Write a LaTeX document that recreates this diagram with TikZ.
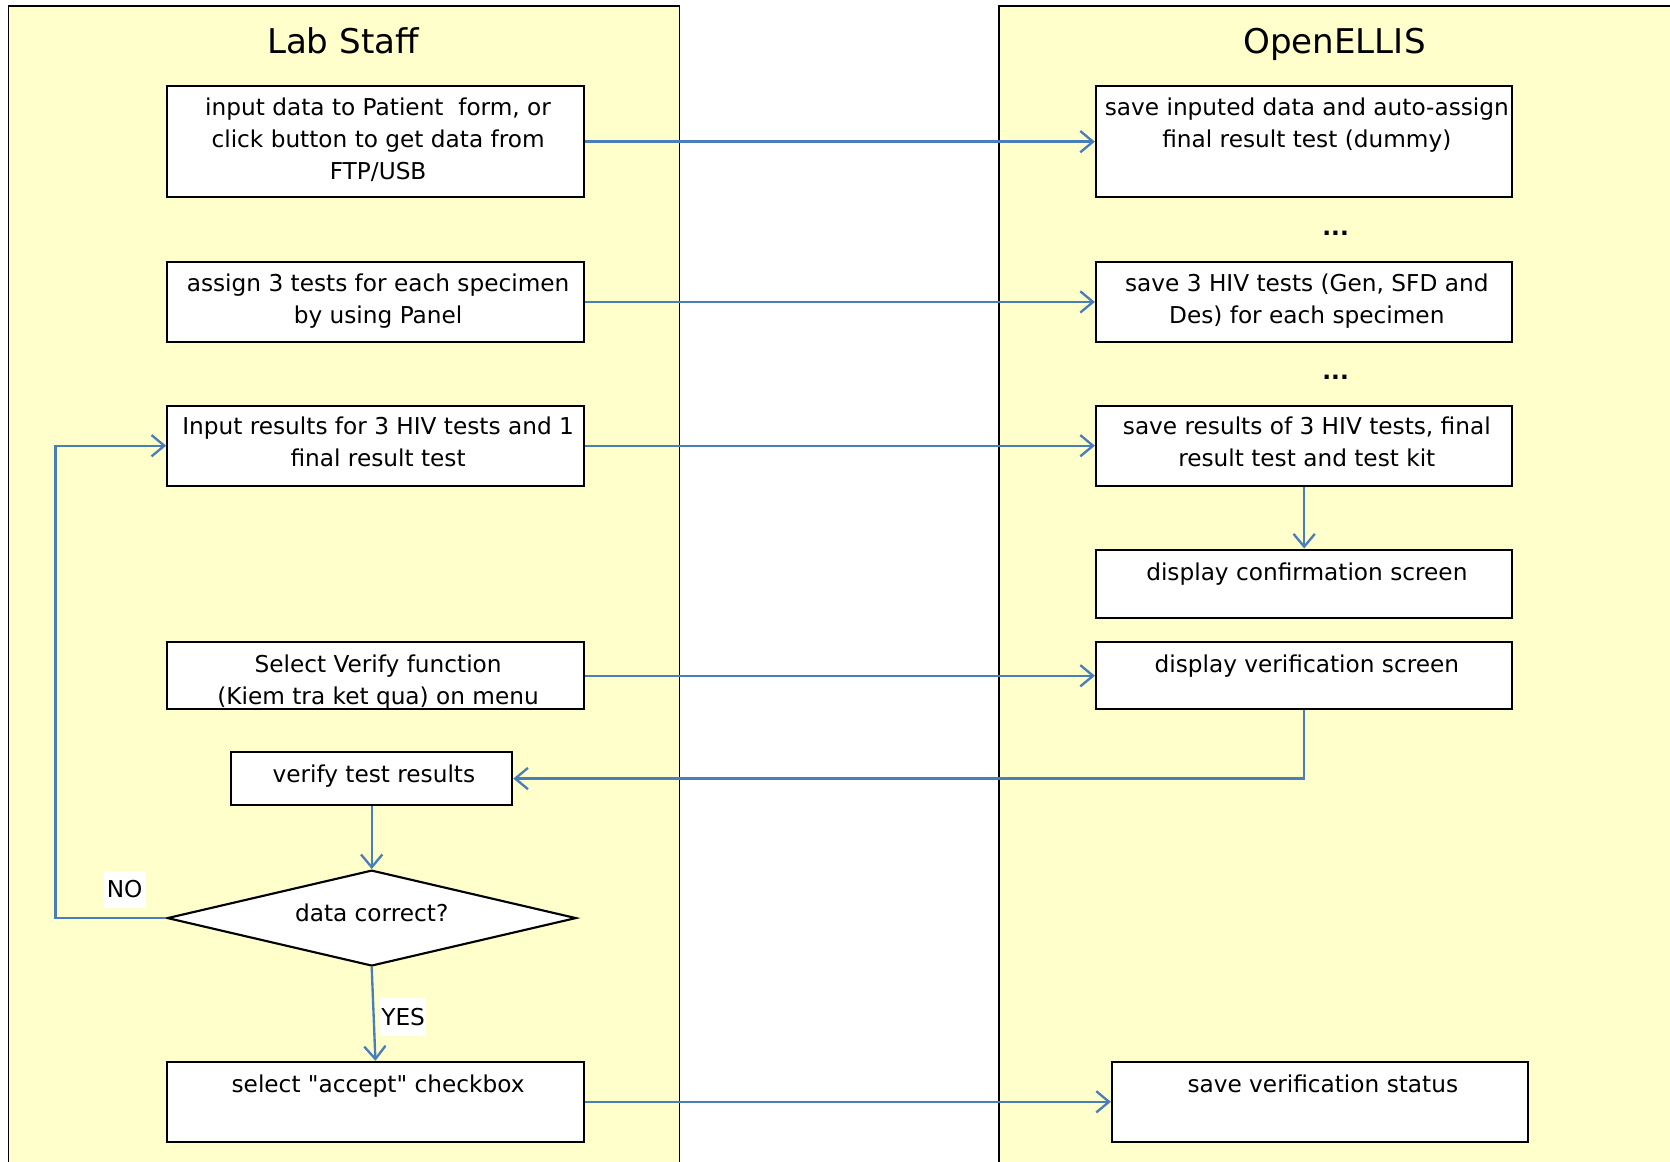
\documentclass[tikz,border=0pt]{standalone}
\usepackage{fontspec}
\setmainfont{DejaVu Sans}[Ligatures=TeXOff]
\usetikzlibrary{arrows.meta,shapes.geometric}
\definecolor{lanefill}{HTML}{FFFFCC}
\definecolor{arrblue}{HTML}{4A7EBB}
\begin{document}
\begin{tikzpicture}[x=0.5pt,y=-0.5pt,
  lanebox/.style={draw=black,fill=lanefill,line width=0.9pt},
  procbox/.style={draw=black,fill=white,line width=1pt,inner sep=0pt,minimum width=195.5pt},
  txt/.style={inner sep=0pt,align=center,font=\fontsize{10.9}{15}\selectfont},
  title/.style={inner sep=0pt,anchor=base,font=\fontsize{16}{19}\selectfont},
  decision/.style={diamond,aspect=4.27,draw=black,fill=white,line width=1pt,inner sep=0pt,
     minimum width=192pt,minimum height=45pt,font=\fontsize{10.9}{15}\selectfont,text depth=5pt},
  conn/.style={draw=arrblue,line width=1.1pt,-{Straight Barb[length=6pt,width=10pt]}},
  tag/.style={fill=white,inner sep=0pt,minimum width=20pt,minimum height=17.5pt,font=\fontsize{10.9}{15}\selectfont}
]
\useasboundingbox (0,0) rectangle (1568,1091);
\clip (0,0) rectangle (1568,1091);
\fill[white] (0,0) rectangle (1568,1091);
% swimlanes
\draw[lanebox] (8,6) rectangle (638,1110);
\draw[lanebox] (938,6) rectangle (1590,1110);
\node[title] (tlab) at (322,50) {Lab Staff};
\node[title] (topen) at (1253,50) {OpenELLIS};

% left boxes
\node[procbox,minimum height=52pt] (l1) at (352.5,133) {};
\node[procbox,minimum height=37.5pt] (l2) at (352.5,283.5) {};
\node[procbox,minimum height=37.5pt] (l3) at (352.5,418.5) {};
\node[procbox,minimum height=31.5pt] (l4) at (352.5,634.5) {};
\node[procbox,minimum width=132pt,minimum height=25pt] (l5) at (349,731) {};
\node[decision] (dia) at (349,862) {data correct?};
\node[procbox,minimum height=37.5pt] (l6) at (352.5,1034.5) {};

% right boxes
\node[procbox,minimum height=52pt] (r1) at (1224.5,133) {};
\node[procbox,minimum height=37.5pt] (r2) at (1224.5,283.5) {};
\node[procbox,minimum height=37.5pt] (r3) at (1224.5,418.5) {};
\node[procbox,minimum height=32pt] (r4) at (1224.5,548) {};
\node[procbox,minimum height=31.5pt] (r5) at (1224.5,634.5) {};
\node[procbox,minimum height=37.5pt] (r6) at (1239.5,1034.5) {};

% texts
\node[txt,anchor=north] (tl1) at (355,88) {\rule{0pt}{10pt}input data to Patient\ \ form, or\\click button to get data from\\FTP/USB};
\node[txt,anchor=north] (tl2) at (355,253) {\rule{0pt}{10pt}assign 3 tests for each specimen\\by using Panel};
\node[txt,anchor=north] (tl3) at (355,388) {\rule{0pt}{10pt}Input results for 3 HIV tests and 1\\final result test};
\node[txt,anchor=north] (tl4) at (355,611) {\rule{0pt}{10pt}Select Verify function\\(Kiem tra ket qua) on menu};
\node[txt,anchor=north] (tl5) at (351,714) {\rule{0pt}{10pt}verify test results};
\node[txt,anchor=north] (tl6) at (355,1005) {\rule{0pt}{10pt}select \char"22 accept\char"22\ checkbox};
\node[txt,anchor=north] (tr1) at (1227,88) {\rule{0pt}{10pt}save inputed data and auto-assign\\final result test (dummy)};
\node[txt,anchor=north] (tr2) at (1227,253) {\rule{0pt}{10pt}save 3 HIV tests (Gen, SFD and\\Des) for each specimen};
\node[txt,anchor=north] (tr3) at (1227,388) {\rule{0pt}{10pt}save results of 3 HIV tests, final\\result test and test kit};
\node[txt,anchor=north] (tr4) at (1227,525) {\rule{0pt}{10pt}display confirmation screen};
\node[txt,anchor=north] (tr5) at (1227,611) {\rule{0pt}{10pt}display verification screen};
\node[txt,anchor=north] (tr6) at (1242,1005) {\rule{0pt}{10pt}save verification status};
\node[txt,font=\bfseries\fontsize{10.9}{15}\selectfont] (dots1) at (1254,219) {...};
\node[txt,font=\bfseries\fontsize{10.9}{15}\selectfont] (dots2) at (1254,354) {...};

% connectors
\coordinate (loopx) at (52,0);
\draw[conn] (l1.east) -- (r1.west);
\draw[conn] (l2.east) -- (r2.west);
\draw[conn] (l3.east) -- (r3.west);
\draw[conn] (r3.south) -- (r4.north);
\draw[conn] (l4.east) -- (r5.west);
\draw[conn] (r5.south) |- (l5.east);
\draw[conn] (l5.south) -- (dia.north);
\draw[conn] (dia.west) -- (dia.west -| loopx) |- (l3.west);
\draw[conn] (dia.south) -- (l6.north);
\draw[conn] (l6.east) -- (r6.west);

\node[tag] (no) at (117,835) {NO};
\node[tag,minimum width=21.5pt] (yes) at (378.5,955) {YES};
\end{tikzpicture}
\end{document}
